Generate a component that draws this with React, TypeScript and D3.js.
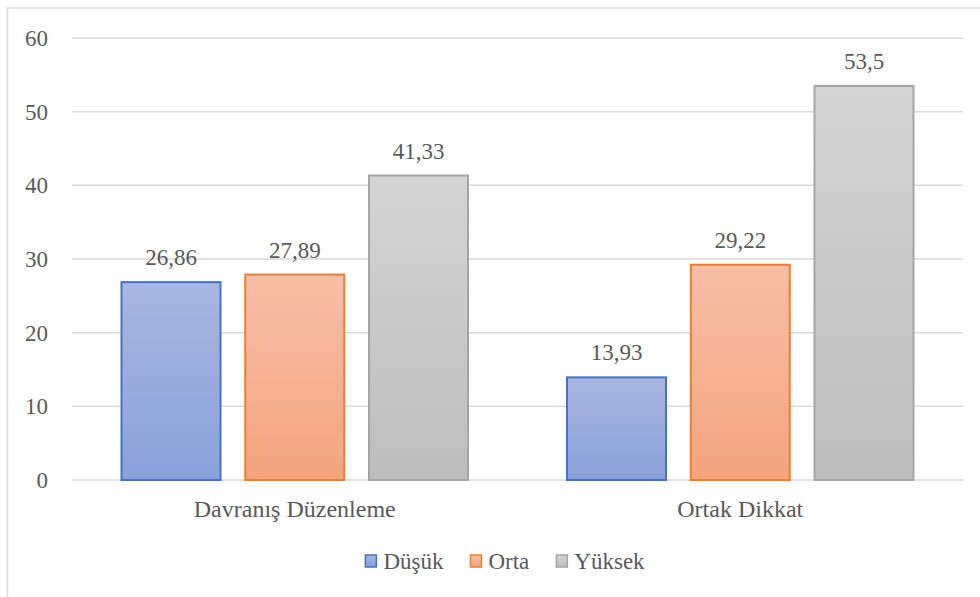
import React, { useEffect, useRef } from 'react';
import * as d3 from 'd3';

// chart values
const categories = ['Davranış Düzenleme', 'Ortak Dikkat'];
const seriesNames = ['Düşük', 'Orta', 'Yüksek'];
const dusuk = [26.86, 13.93];
const orta = [27.89, 29.22];
const yuksek = [41.33, 53.5];
const yTicks = [0, 10, 20, 30, 40, 50, 60];

const seriesValues = [dusuk, orta, yuksek];
const strokeColors = ['#4472c4', '#ed7d31', '#a5a5a5'];
const gradTop = ['#a8b6e1', '#f7bfa7', '#d4d4d4'];
const gradBottom = ['#8aa1d9', '#f4a47e', '#bdbdbd'];

const W = 980;
const H = 597;
const FONT = "'Liberation Serif', Tinos, 'Times New Roman', 'DejaVu Serif', serif";
const TEXT = '#595959';

const App: React.FC = () => {
  const ref = useRef<SVGSVGElement>(null);

  useEffect(() => {
    const svg = d3.select(ref.current);
    svg.selectAll('*').remove();

    const defs = svg.append('defs');
    seriesNames.forEach((_, i) => {
      const g = defs.append('linearGradient')
        .attr('id', `grad${i}`)
        .attr('x1', 0).attr('y1', 0).attr('x2', 0).attr('y2', 1);
      g.append('stop').attr('offset', '0%').attr('stop-color', gradTop[i]);
      g.append('stop').attr('offset', '100%').attr('stop-color', gradBottom[i]);
    });

    // outer chart border (cut off at right/bottom in the original)
    svg.append('rect')
      .attr('x', 7.5).attr('y', 8)
      .attr('width', 1200).attr('height', 1200)
      .attr('fill', 'none')
      .attr('stroke', '#d9d9d9')
      .attr('stroke-width', 1.5);

    const left = 72, right = 963, top = 38, bottom = 480;

    const y = d3.scaleLinear().domain([0, 60]).range([bottom, top]);
    const x0 = d3.scaleBand().domain(categories).range([left, right]).padding(0);
    const x1 = d3.scaleBand()
      .domain(seriesNames)
      .range([0, x0.bandwidth()])
      .paddingInner(0.2)
      .paddingOuter(0.4);

    // gridlines
    svg.append('g')
      .selectAll('line')
      .data(yTicks)
      .join('line')
      .attr('x1', left).attr('x2', right)
      .attr('y1', d => y(d)).attr('y2', d => y(d))
      .attr('stroke', '#d9d9d9')
      .attr('stroke-width', 1.5);

    // y tick labels
    svg.append('g')
      .selectAll('text')
      .data(yTicks)
      .join('text')
      .attr('x', 48)
      .attr('y', d => y(d) + 8)
      .attr('text-anchor', 'end')
      .style('font-family', FONT)
      .attr('font-size', 23)
      .attr('fill', TEXT)
      .text(d => d);

    // bars
    seriesNames.forEach((name, si) => {
      const g = svg.append('g');
      g.selectAll('rect')
        .data(seriesValues[si])
        .join('rect')
        .attr('x', (d, i) => x0(categories[i])! + x1(name)!)
        .attr('y', d => y(d))
        .attr('width', x1.bandwidth())
        .attr('height', d => bottom - y(d))
        .attr('fill', `url(#grad${si})`)
        .attr('stroke', strokeColors[si])
        .attr('stroke-width', 2);

      g.selectAll('text')
        .data(seriesValues[si])
        .join('text')
        .attr('x', (d, i) => x0(categories[i])! + x1(name)! + x1.bandwidth() / 2)
        .attr('y', d => y(d) - 17)
        .attr('text-anchor', 'middle')
        .style('font-family', FONT)
        .attr('font-size', 23)
        .attr('fill', TEXT)
        .text(d => String(d).replace('.', ','));
    });

    // category labels
    svg.append('g')
      .selectAll('text')
      .data(categories)
      .join('text')
      .attr('x', d => x0(d)! + x0.bandwidth() / 2)
      .attr('y', 517)
      .attr('text-anchor', 'middle')
      .style('font-family', FONT)
      .attr('font-size', 24)
      .attr('fill', TEXT)
      .text(d => d);

    // legend
    const legend = svg.append('g');
    const items = legend.selectAll('g')
      .data(seriesNames)
      .join('g');
    items.append('rect')
      .attr('x', 0).attr('y', -14)
      .attr('width', 11).attr('height', 12)
      .attr('fill', (d, i) => `url(#grad${i})`)
      .attr('stroke', (d, i) => strokeColors[i])
      .attr('stroke-width', 1.5);
    items.append('text')
      .attr('x', 18)
      .attr('y', 0)
      .style('font-family', FONT)
      .attr('font-size', 23)
      .attr('fill', TEXT)
      .text(d => d);

    let cursor = 0;
    const gap = 27;
    items.each(function () {
      const t = d3.select(this).select('text').node() as SVGTextElement;
      const w = 18 + t.getComputedTextLength();
      d3.select(this).attr('data-x', cursor);
      cursor += w + gap;
    });
    const total = cursor - gap;
    const startX = 505 - total / 2;
    items.attr('transform', function () {
      return `translate(${startX + Number(d3.select(this).attr('data-x'))},569)`;
    });
  }, []);

  return (
    <svg
      ref={ref}
      width={W}
      height={H}
      style={{ position: 'absolute', left: 0, top: 0, background: '#fff' }}
    />
  );
};

export default App;
